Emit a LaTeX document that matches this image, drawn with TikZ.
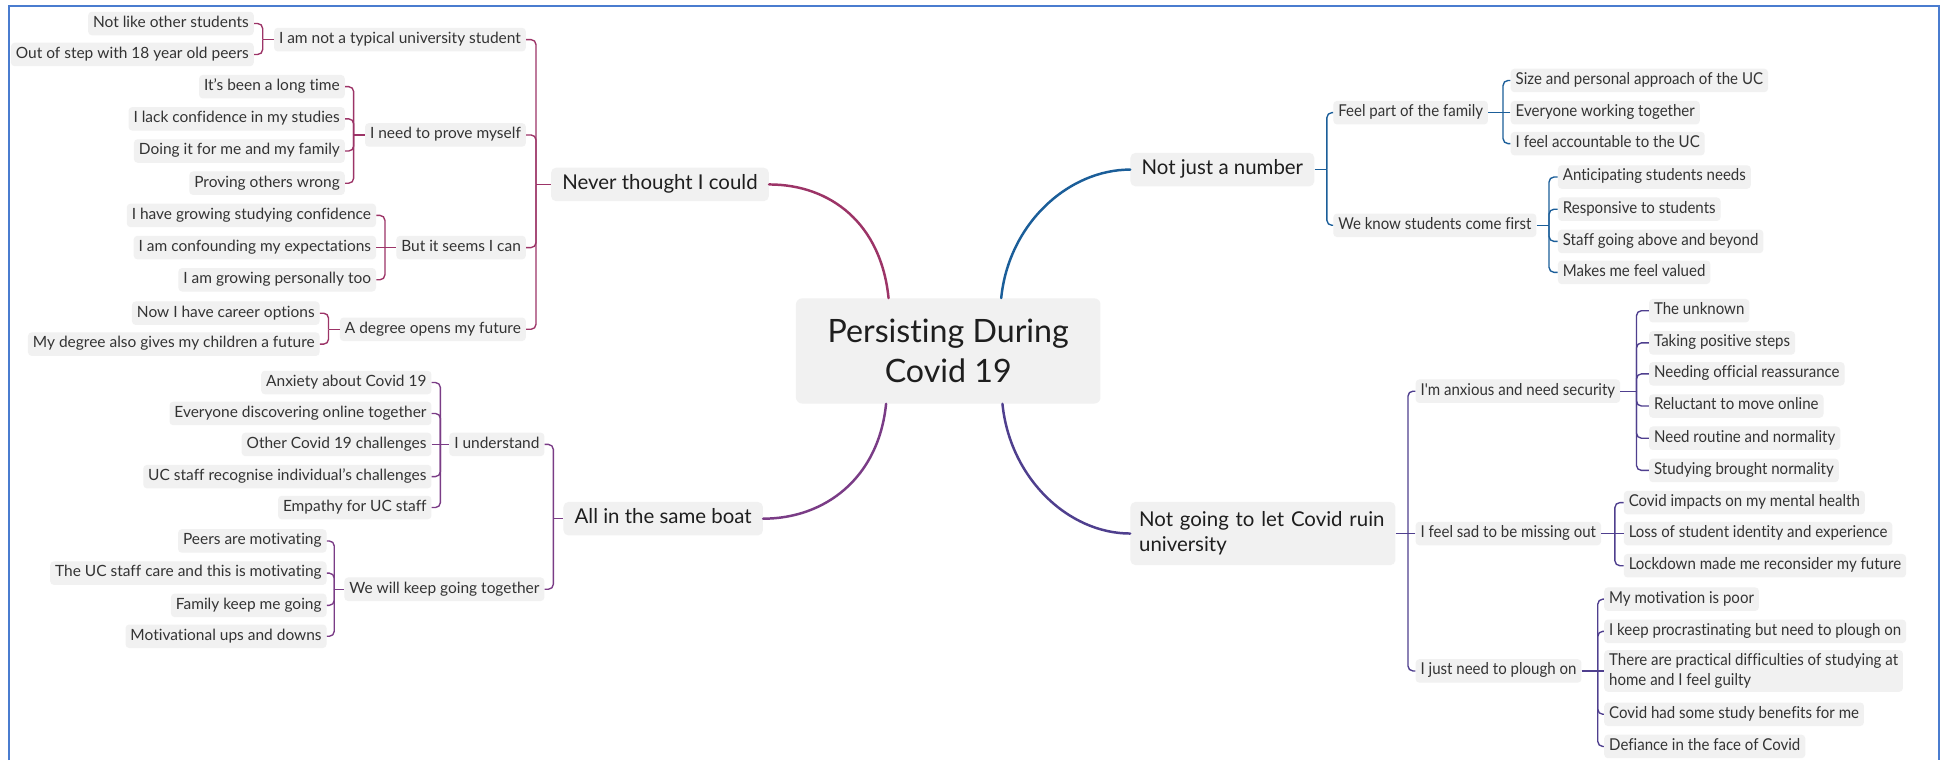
\documentclass[tikz,border=0pt]{standalone}
\usepackage{fontspec}
\setmainfont{Lato}[Ligatures=NoCommon]
\newfontfamily\narrowfont{Lato}[FakeStretch=0.92, Ligatures=NoCommon]
\definecolor{framebl}{HTML}{4A7CCF}
\definecolor{boxfill}{HTML}{F1F1F1}
\definecolor{txt}{HTML}{333333}
\definecolor{txtdark}{HTML}{1E1E1E}
\definecolor{cA}{HTML}{9C3467}
\definecolor{cB}{HTML}{7A3C86}
\definecolor{cC}{HTML}{1B5E99}
\definecolor{cD}{HTML}{4F3F8E}
\begin{document}
\begin{tikzpicture}[x=1pt,y=-1pt,
  boxbase/.style={fill=boxfill, rounded corners=3pt, inner ysep=0pt},
  leaf/.style={boxbase, text=txt, inner xsep=4pt, minimum height=19pt,
    text height=8.8pt, text depth=2.6pt, font=\fontsize{12.5}{14}\selectfont},
  leafR/.style={leaf, text height=9.2pt, text depth=2.8pt,
    font=\narrowfont\fontsize{13.2}{15}\selectfont},
  topic/.style={boxbase, rounded corners=4pt, text=txtdark, inner xsep=9pt,
    minimum height=27pt, text height=11.8pt, text depth=3.4pt,
    font=\fontsize{16.5}{19}\selectfont},
  hk/.style={line width=1.1pt, rounded corners=4pt},
  hookA/.style={hk, draw=cA}, hookB/.style={hk, draw=cB},
  hookC/.style={hk, draw=cC}, hookD/.style={hk, draw=cD},
  trunk/.style={line width=2pt, line cap=round},
]
\useasboundingbox (0,0) rectangle (1568,614);
\fill[white] (0,0) rectangle (1568,614);
\draw[framebl, line width=1.6pt] (7,614) -- (7,5) -- (1566,5) -- (1566,614);

% central topic
\node[boxbase, rounded corners=5pt, minimum width=246pt, minimum height=85pt,
  align=center, text=txtdark, font=\fontsize{26}{32}\selectfont]
  (ctr) at (766,283.5) {Persisting During\\Covid 19};

% ---------------- Never thought I could ----------------
\node[topic, anchor=west] (nt) at (445,149) {Never thought I could};
\coordinate (ntb) at ([xshift=-12pt]nt.west);
\node[leaf, anchor=east] (a) at ([shift={(-8,-117)}]ntb) {I am not a typical university student};
\node[leaf, anchor=east] (b) at ([shift={(-8,-40)}]ntb) {I need to prove myself};
\node[leaf, anchor=east] (c) at ([shift={(-8,51)}]ntb) {But it seems I can};
\node[leaf, anchor=east] (d) at ([shift={(-8,117)}]ntb) {A degree opens my future};
\draw[hookA] (a.east) -| (ntb);
\draw[hookA] (b.east) -| (ntb);
\draw[hookA] (c.east) -| (ntb);
\draw[hookA] (d.east) -| (ntb);
\draw[hookA] (ntb) -- (nt.west);

\coordinate (ab) at ([xshift=-9pt]a.west);
\node[leaf, anchor=east] (a1) at ([shift={(-7,-13)}]ab) {Not like other students};
\node[leaf, anchor=east] (a2) at ([shift={(-7,12)}]ab) {Out of step with 18 year old peers};
\draw[hookA] (a1.east) -| (ab);
\draw[hookA] (a2.east) -| (ab);
\draw[hookA] (ab) -- (a.west);

\coordinate (bb) at ([xshift=-9pt]b.west);
\node[leaf, anchor=east] (b1) at ([shift={(-7,-39)}]bb) {It's been a long time};
\node[leaf, anchor=east] (b2) at ([shift={(-7,-13)}]bb) {I lack confidence in my studies};
\node[leaf, anchor=east] (b3) at ([shift={(-7,13)}]bb) {Doing it for me and my family};
\node[leaf, anchor=east] (b4) at ([shift={(-7,39)}]bb) {Proving others wrong};
\draw[hookA] (b1.east) -| (bb);
\draw[hookA] (b2.east) -| (bb);
\draw[hookA] (b3.east) -| (bb);
\draw[hookA] (b4.east) -| (bb);
\draw[hookA] (bb) -- (b.west);

\coordinate (cb) at ([xshift=-9pt]c.west);
\node[leaf, anchor=east] (c1) at ([shift={(-7,-26)}]cb) {I have growing studying confidence};
\node[leaf, anchor=east] (c2) at ([shift={(-7,0)}]cb) {I am confounding my expectations};
\node[leaf, anchor=east] (c3) at ([shift={(-7,26)}]cb) {I am growing personally too};
\draw[hookA] (c1.east) -| (cb);
\draw[hookA] (c2.east) -- (cb);
\draw[hookA] (c3.east) -| (cb);
\draw[hookA] (cb) -- (c.west);

\coordinate (db) at ([xshift=-9pt]d.west);
\node[leaf, anchor=east] (d1) at ([shift={(-7,-13)}]db) {Now I have career options};
\node[leaf, anchor=east] (d2) at ([shift={(-7,12)}]db) {My degree also gives my children a future};
\draw[hookA] (d1.east) -| (db);
\draw[hookA] (d2.east) -| (db);
\draw[hookA] (db) -- (d.west);

% ---------------- All in the same boat ----------------
\node[topic, anchor=west] (sb) at (455,419) {All in the same boat};
\coordinate (sbb) at ([xshift=-8pt]sb.west);
\node[leaf, anchor=east] (e) at ([shift={(-7,-60)}]sbb) {I understand};
\node[leaf, anchor=east] (f) at ([shift={(-7,57)}]sbb) {We will keep going together};
\draw[hookB] (e.east) -| (sbb);
\draw[hookB] (f.east) -| (sbb);
\draw[hookB] (sbb) -- (sb.west);

\coordinate (eb) at ([xshift=-7pt]e.west);
\node[leaf, anchor=east] (e1) at ([shift={(-7,-50)}]eb) {Anxiety about Covid 19};
\node[leaf, anchor=east] (e2) at ([shift={(-7,-25)}]eb) {Everyone discovering online together};
\node[leaf, anchor=east] (e3) at ([shift={(-7,0)}]eb) {Other Covid 19 challenges};
\node[leaf, anchor=east] (e4) at ([shift={(-7,26)}]eb) {UC staff recognise individual's challenges};
\node[leaf, anchor=east] (e5) at ([shift={(-7,51)}]eb) {Empathy for UC staff};
\draw[hookB] (e1.east) -| (eb);
\draw[hookB] (e2.east) -| (eb);
\draw[hookB] (e3.east) -- (eb);
\draw[hookB] (e4.east) -| (eb);
\draw[hookB] (e5.east) -| (eb);
\draw[hookB] (eb) -- (e.west);

\coordinate (fb) at ([xshift=-8pt]f.west);
\node[leaf, anchor=east] (f1) at ([shift={(-6,-39)}]fb) {Peers are motivating};
\node[leaf, anchor=east] (f2) at ([shift={(-6,-13)}]fb) {The UC staff care and this is motivating};
\node[leaf, anchor=east] (f3) at ([shift={(-6,13)}]fb) {Family keep me going};
\node[leaf, anchor=east] (f4) at ([shift={(-6,38)}]fb) {Motivational ups and downs};
\draw[hookB] (f1.east) -| (fb);
\draw[hookB] (f2.east) -| (fb);
\draw[hookB] (f3.east) -| (fb);
\draw[hookB] (f4.east) -| (fb);
\draw[hookB] (fb) -- (f.west);

% ---------------- Not just a number ----------------
\node[topic, anchor=west] (nj) at (913,137) {Not just a number};
\coordinate (njb) at ([xshift=10pt]nj.east);
\node[leafR, anchor=west] (g) at ([shift={(5,-46)}]njb) {Feel part of the family};
\node[leafR, anchor=west] (h) at ([shift={(5,45)}]njb) {We know students come first};
\draw[hookC] (g.west) -| (njb);
\draw[hookC] (h.west) -| (njb);
\draw[hookC] (nj.east) -- (njb);

\coordinate (gb) at ([xshift=12pt]g.east);
\node[leafR, anchor=west] (g1) at ([shift={(6,-26)}]gb) {Size and personal approach of the UC};
\node[leafR, anchor=west] (g2) at ([shift={(6,0)}]gb) {Everyone working together};
\node[leafR, anchor=west] (g3) at ([shift={(6,25)}]gb) {I feel accountable to the UC};
\draw[hookC] (g1.west) -| (gb);
\draw[hookC] (g2.west) -- (gb);
\draw[hookC] (g3.west) -| (gb);
\draw[hookC] (g.east) -- (gb);

\coordinate (hb) at ([xshift=10pt]h.east);
\node[leafR, anchor=west] (h1) at ([shift={(7,-39)}]hb) {Anticipating students needs};
\node[leafR, anchor=west] (h2) at ([shift={(7,-13)}]hb) {Responsive to students};
\node[leafR, anchor=west] (h3) at ([shift={(7,13)}]hb) {Staff going above and beyond};
\node[leafR, anchor=west] (h4) at ([shift={(7,38)}]hb) {Makes me feel valued};
\draw[hookC] (h1.west) -| (hb);
\draw[hookC] (h2.west) -| (hb);
\draw[hookC] (h3.west) -| (hb);
\draw[hookC] (h4.west) -| (hb);
\draw[hookC] (h.east) -- (hb);

% ---------------- Not going to let Covid ruin university ----------------
\node[boxbase, rounded corners=4pt, anchor=west, text=txtdark, inner xsep=7pt,
  inner ysep=6pt, minimum height=51pt, text width=200pt, align=left,
  font=\fontsize{16.5}{20}\selectfont]
  (ng) at (913,431) {Not going to let Covid ruin\\university};
\coordinate (ngb) at ([xshift=10pt]ng.east);
\node[leafR, anchor=west] (i) at ([shift={(6,-115)}]ngb) {I'm anxious and need security};
\node[leafR, anchor=west] (j) at ([shift={(6,0)}]ngb) {I feel sad to be missing out};
\node[leafR, anchor=west] (k) at ([shift={(6,111)}]ngb) {I just need to plough on};
\draw[hookD] (i.west) -| (ngb);
\draw[hookD] (j.west) -- (ngb);
\draw[hookD] (k.west) -| (ngb);
\draw[hookD] (ng.east) -- (ngb);

\coordinate (ib) at ([xshift=13pt]i.east);
\node[leafR, anchor=west] (i1) at ([shift={(10,-65)}]ib) {The unknown};
\node[leafR, anchor=west] (i2) at ([shift={(10,-39)}]ib) {Taking positive steps};
\node[leafR, anchor=west] (i3) at ([shift={(10,-14)}]ib) {Needing official reassurance};
\node[leafR, anchor=west] (i4) at ([shift={(10,12)}]ib) {Reluctant to move online};
\node[leafR, anchor=west] (i5) at ([shift={(10,38)}]ib) {Need routine and normality};
\node[leafR, anchor=west] (i6) at ([shift={(10,64)}]ib) {Studying brought normality};
\draw[hookD] (i1.west) -| (ib);
\draw[hookD] (i2.west) -| (ib);
\draw[hookD] (i3.west) -| (ib);
\draw[hookD] (i4.west) -| (ib);
\draw[hookD] (i5.west) -| (ib);
\draw[hookD] (i6.west) -| (ib);
\draw[hookD] (i.east) -- (ib);

\coordinate (jb) at ([xshift=11pt]j.east);
\node[leafR, anchor=west] (j1) at ([shift={(7,-25)}]jb) {Covid impacts on my mental health};
\node[leafR, anchor=west] (j2) at ([shift={(7,0)}]jb) {Loss of student identity and experience};
\node[leafR, anchor=west] (j3) at ([shift={(7,26)}]jb) {Lockdown made me reconsider my future};
\draw[hookD] (j1.west) -| (jb);
\draw[hookD] (j2.west) -- (jb);
\draw[hookD] (j3.west) -| (jb);
\draw[hookD] (j.east) -- (jb);

\coordinate (kb) at ([xshift=13pt]k.east);
\node[leafR, anchor=west] (k1) at ([shift={(5,-58)}]kb) {My motivation is poor};
\node[leafR, anchor=west] (k2) at ([shift={(5,-32)}]kb) {I keep procrastinating but need to plough on};
\node[boxbase, anchor=west, text=txt, inner xsep=4pt, inner ysep=3pt, align=left,
  font=\narrowfont\fontsize{13.2}{15.5}\selectfont]
  (k3) at ([shift={(5,0)}]kb) {There are practical difficulties of studying at\\home and I feel guilty};
\node[leafR, anchor=west] (k4) at ([shift={(5,35)}]kb) {Covid had some study benefits for me};
\node[leafR, anchor=west] (k5) at ([shift={(5,61)}]kb) {Defiance in the face of Covid};
\draw[hookD] (k1.west) -| (kb);
\draw[hookD] (k2.west) -| (kb);
\draw[hookD] (k3.west) -- (kb);
\draw[hookD] (k4.west) -| (kb);
\draw[hookD] (k5.west) -| (kb);
\draw[hookD] (k.east) -- (kb);

% ---------------- trunks from the central topic ----------------
\draw[trunk, cA] ([xshift=75pt]ctr.north west) .. controls +(-6,-60) and +(50,0) .. (nt.east);
\draw[trunk, cB] ([xshift=73pt]ctr.south west) .. controls +(-6,60) and +(50,0) .. (sb.east);
\draw[trunk, cC] ([xshift=166pt]ctr.north west) .. controls +(6,-60) and +(-50,0) .. (nj.west);
\draw[trunk, cD] ([xshift=167pt]ctr.south west) .. controls +(6,60) and +(-50,0) .. (ng.west);
\end{tikzpicture}
\end{document}
